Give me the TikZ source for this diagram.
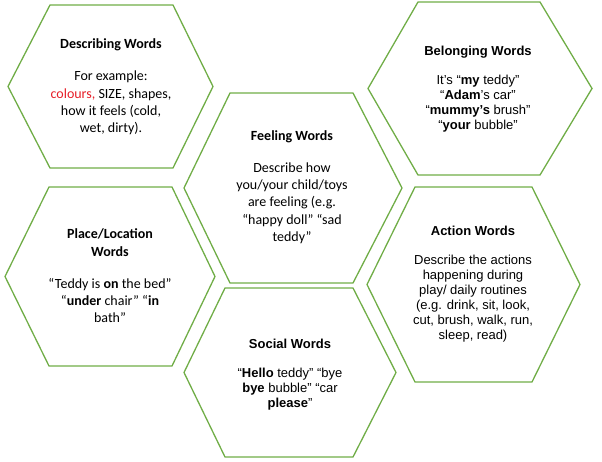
\documentclass[tikz,border=0pt]{standalone}
\usepackage{fontspec}
\setmainfont{Carlito}
\newfontfamily\arialf{Liberation Sans}
\definecolor{hexg}{RGB}{112,173,71}
\definecolor{redt}{RGB}{230,30,40}
\newcommand{\hexa}[7]{% name, left x, tl x, tr x, right x, top y, bottom y
  \draw[hexline] (#2,{(#6+#7)/2}) -- (#3,#6) -- (#4,#6) -- (#5,{(#6+#7)/2}) -- (#4,#7) -- (#3,#7) -- cycle;
  \coordinate (#1) at ({(#2+#5)/2},{(#6+#7)/2});}
\tikzset{hexline/.style={draw=hexg,line width=1.3pt,line join=miter},
 txt/.style={align=center,font=\fontsize{14}{17.3}\selectfont,inner sep=0pt},
 atxt/.style={align=center,font=\arialf\fontsize{13}{15}\selectfont,inner sep=0pt}}
\begin{document}
\begin{tikzpicture}[x=1pt,y=-1pt]
\useasboundingbox (0,0) rectangle (602,462);
\hexa{d}{8}{50}{173}{213}{5}{168}
\hexa{f}{184}{230}{353}{402}{93}{283}
\hexa{p}{5}{49}{172}{215}{187}{366}
\hexa{s}{184}{225}{353}{396}{288}{457}
\hexa{a}{367}{415}{532}{580}{187}{382}
\hexa{b}{368}{418}{540}{592}{2}{175}
\node[txt] (dt) at (111,87) {\textbf{Describing Words}\\[15pt]For example:\\\textcolor{redt}{colours,} SIZE, shapes,\\how it feels (cold,\\wet, dirty).};
\node[txt] (ft) at (292,187) {\textbf{Feeling Words}\\[15pt]Describe how\\you/your child/toys\\are feeling (e.g.\\“happy doll” “sad\\teddy”};
\node[txt] (pt) at (110,276) {\textbf{Place/Location}\\\textbf{Words}\\[15pt]“Teddy is \textbf{on} the bed”\\“\textbf{under} chair” “\textbf{in}\\bath”};
\node[atxt] (st) at (290,375) {\textbf{Social Words}\\[14pt]“\textbf{Hello} teddy” “bye\\\textbf{bye} bubble” “car\\\textbf{please}”};
\node[atxt] (at) at (473,284) {\textbf{Action Words}\\[14pt]Describe the actions\\happening during\\play/ daily routines\\(e.g. drink, sit, look,\\cut, brush, walk, run,\\sleep, read)};
\node[atxt] (bt) at (478,89) {\textbf{Belonging Words}\\[14pt]It’s “\textbf{my} teddy”\\“\textbf{Adam}’s car”\\“\textbf{mummy’s} brush”\\“\textbf{your} bubble”};
\end{tikzpicture}
\end{document}
